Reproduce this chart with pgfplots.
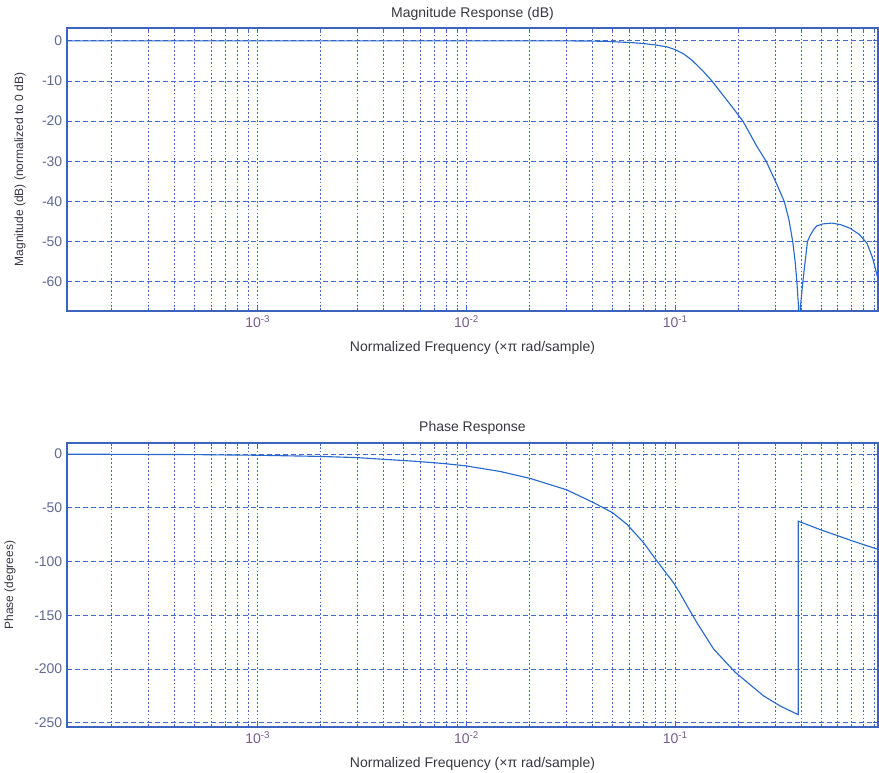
\documentclass[border=0pt]{standalone}
\usepackage{pgfplots}
\pgfplotsset{compat=1.18}
\usepackage{fontspec}
\setmainfont{Liberation Sans}
\definecolor{lineblue}{RGB}{40,105,205}
\definecolor{axblue}{RGB}{60,100,190}
\definecolor{gridblue}{RGB}{70,105,195}
\definecolor{ticktext}{RGB}{95,105,145}
\definecolor{xticktext}{RGB}{120,90,140}
\definecolor{labeltext}{RGB}{55,55,65}

\pgfplotstableread{
f db
1.22e-4 0
0.001 0
0.01 0
0.03 0
0.045 -0.1
0.06 -0.4
0.068 -0.6
0.08 -1.0
0.0913 -1.5
0.1 -2.2
0.11 -3.3
0.12 -4.8
0.135 -7.4
0.1498 -10
0.1702 -13.7
0.19 -16.9
0.2108 -20
0.2459 -26.3
0.2724 -30
0.3068 -35.8
0.3325 -40
0.35 -44.5
0.3652 -50
0.375 -55
0.3823 -60
0.389 -66
0.3936 -80
0.398 -66
0.4083 -60
0.4295 -50
0.4423 -48.5
0.46 -47
0.476 -46.1
0.51 -45.6
0.5628 -45.4
0.62 -45.8
0.6878 -46.7
0.76 -48.2
0.8275 -50.4
0.88 -54
0.935 -59.3
}\magtable

\pgfplotstableread{
f ph
1.22e-4 -0.1
0.0005 -0.5
0.001 -1.1
0.002 -2.2
0.00298 -3.3
0.00577 -6.8
0.00776 -8.8
0.00986 -10.9
0.0145 -16.2
0.0202 -22.7
0.0302 -33.3
0.0405 -45.1
0.05 -54.5
0.0587 -65.4
0.0705 -82.5
0.0785 -95
0.0982 -120
0.1057 -130
0.1137 -141
0.127 -157
0.14 -170
0.1524 -181.3
0.1937 -203.1
0.2645 -225
0.3178 -234.4
0.3823 -242
0.388 -242.4
0.3881 -62.5
0.4946 -70.3
0.7142 -81.2
0.935 -88.7
}\phtable

\pgfplotsset{
  every axis/.append style={
    scale only axis,
    width=608.25pt,
    axis line style={axblue, line width=0.8pt},
    tick style={axblue, line width=0.6pt},
    major tick length=4pt, minor tick length=2.5pt,
    tick align=inside,
    xmajorgrids=true, xminorgrids=true, ymajorgrids=true,
    grid style={gridblue, line width=0.6pt},
    major x grid style={gridblue, line width=0.6pt, dash pattern=on 1.3pt off 1.6pt},
    minor x grid style={gridblue, line width=0.6pt, dash pattern=on 1.3pt off 1.6pt},
    major y grid style={gridblue, line width=0.6pt, dash pattern=on 3.5pt off 2.5pt},
    yticklabel style={font=\fontsize{10.5}{12}\selectfont, text=ticktext},
    xticklabel style={font=\fontsize{10.5}{12}\selectfont, text=xticktext},
    title style={font=\fontsize{10.5}{12}\selectfont, text=labeltext, at={(axis description cs:0.5,1)}, anchor=center},
    xlabel style={font=\fontsize{10.5}{12}\selectfont, text=labeltext, at={(axis description cs:0.5,0)}, anchor=center, yshift=-27.5pt},
    ylabel style={font=\fontsize{9}{10}\selectfont, text=labeltext, anchor=center, rotate=0},
  },
}

\begin{document}
\begin{tikzpicture}
\useasboundingbox (0,0) rectangle (659.25pt,579pt);
\begin{axis}[
  xmode=log, xmin=1.22e-4, xmax=0.935,
  xtick={1e-3,1e-2,1e-1},
  xticklabels={10\textsuperscript{-3},10\textsuperscript{-2},10\textsuperscript{-1}},
  minor xtick={2e-4,3e-4,4e-4,5e-4,6e-4,7e-4,8e-4,9e-4,2e-3,3e-3,4e-3,5e-3,6e-3,7e-3,8e-3,9e-3,2e-2,3e-2,4e-2,5e-2,6e-2,7e-2,8e-2,9e-2,2e-1,3e-1,4e-1,5e-1,6e-1,7e-1,8e-1,9e-1},
  /pgf/number format/assume math mode=true,
  at={(50.25pt,345.75pt)}, anchor=south west,
  height=212.25pt,
  ymin=-67.3, ymax=3.2,
  ytick={0,-10,-20,-30,-40,-50,-60},
  title={Magnitude Response (dB)},
  title style={yshift=4.5pt},
  xlabel={Normalized Frequency (×π rad/sample)},
  ylabel={Magnitude (dB) (normalized to 0 dB)},
  ylabel style={at={(axis description cs:-0.058,0.5)}},
]
\addplot[lineblue, line width=0.85pt, no marks] table[x=f, y=db] {\magtable};
\end{axis}
\begin{axis}[
  xmode=log, xmin=1.22e-4, xmax=0.935,
  xtick={1e-3,1e-2,1e-1},
  xticklabels={10\textsuperscript{-3},10\textsuperscript{-2},10\textsuperscript{-1}},
  minor xtick={2e-4,3e-4,4e-4,5e-4,6e-4,7e-4,8e-4,9e-4,2e-3,3e-3,4e-3,5e-3,6e-3,7e-3,8e-3,9e-3,2e-2,3e-2,4e-2,5e-2,6e-2,7e-2,8e-2,9e-2,2e-1,3e-1,4e-1,5e-1,6e-1,7e-1,8e-1,9e-1},
  /pgf/number format/assume math mode=true,
  at={(50.25pt,33.75pt)}, anchor=south west,
  height=213pt,
  ymin=-254, ymax=10.3,
  ytick={0,-50,-100,-150,-200,-250},
  title={Phase Response},
  title style={yshift=5.25pt},
  xlabel={Normalized Frequency (×π rad/sample)},
  ylabel={Phase (degrees)},
  ylabel style={at={(axis description cs:-0.0703,0.5)}},
]
\addplot[lineblue, line width=0.85pt, no marks] table[x=f, y=ph] {\phtable};
\end{axis}
\end{tikzpicture}
\end{document}
